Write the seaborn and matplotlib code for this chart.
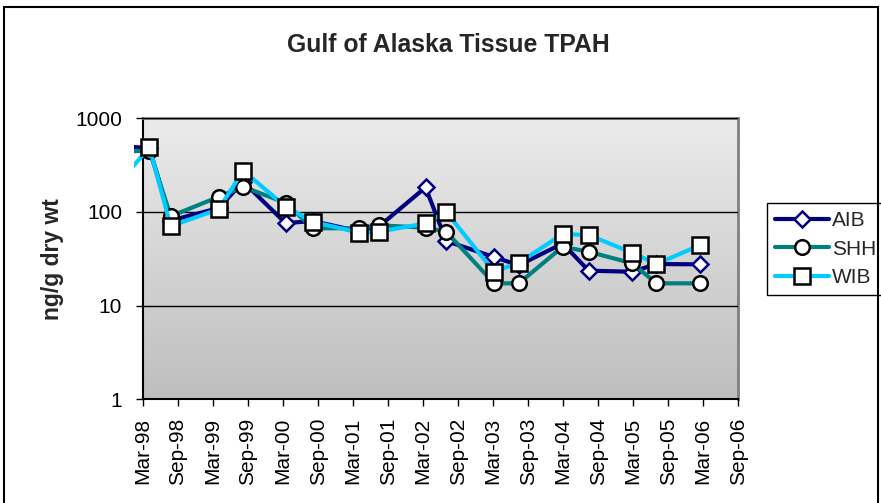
import pandas as pd
import numpy as np
import matplotlib
matplotlib.use("Agg")
import matplotlib.pyplot as plt
import matplotlib.dates as mdates
from matplotlib.patches import Rectangle
from matplotlib.colors import LinearSegmentedColormap
import seaborn as sns

# sampling dates (first one is before the axis start, only a stub of it shows)
datas = ['1997-09-01', '1998-04-05', '1998-07-25', '1999-04-01', '1999-08-07',
         '2000-03-15', '2000-08-04', '2001-04-04', '2001-07-15', '2002-03-15',
         '2002-07-01', '2003-03-07', '2003-07-15', '2004-02-28', '2004-07-13',
         '2005-02-25', '2005-07-01', '2006-02-15']

aib = [517, 480, 81, 110, 210, 76, 80, 62, 70, 183, 49, 33, 27, 46, 23.6, 23, 27.8, 27.6]
shh = [440, 450, 90, 145, 186, 125, 67, 67, 72, 68, 61.5, 17.3, 17.3, 42.5, 37.6, 28.3, 17.3, 17.3]
wib = [150, 489, 70.6, 107, 276, 114, 78.6, 60, 61.5, 75.6, 100, 23, 28.7, 58, 56.7, 36.7, 27.8, 44.3]

series = ['AIB', 'SHH', 'WIB']
cores = {'AIB': '#000080', 'SHH': '#008080', 'WIB': '#00CCFF'}
marcadores = {'AIB': 'D', 'SHH': 'o', 'WIB': 's'}
bordas = {'AIB': '#000080', 'SHH': 'black', 'WIB': 'black'}
tamanhos = {'AIB': 8.5, 'SHH': 10.5, 'WIB': 11}

df = pd.DataFrame({'data': pd.to_datetime(datas), 'AIB': aib, 'SHH': shh, 'WIB': wib})
df = df.melt(id_vars='data', var_name='local', value_name='tpah')

sns.set_style("white")
plt.rcParams['font.family'] = ['Liberation Sans', 'DejaVu Sans']

fig = plt.figure(figsize=(8.81, 5.03), dpi=100)
ax = fig.add_axes([0.162, 0.2062, 0.676, 0.5586])

# fundo em degradê
grad = np.linspace(0, 1, 256).reshape(-1, 1)
cmap = LinearSegmentedColormap.from_list('fundo', ['#EBEBEB', '#BEBEBE'])
ax.imshow(grad, extent=[0, 1, 0, 1], transform=ax.transAxes, aspect='auto',
          cmap=cmap, zorder=0, interpolation='bilinear')

for nome in series:
    dados = df[df['local'] == nome]
    sns.lineplot(data=dados, x='data', y='tpah', color=cores[nome], label=nome,
                 marker=marcadores[nome], markersize=tamanhos[nome],
                 markerfacecolor='white', markeredgecolor=bordas[nome],
                 markeredgewidth=1.8, linewidth=3, ax=ax, zorder=3)

# recorte um pouco além do eixo esquerdo, como no Excel
for linha in ax.lines:
    linha.set_clip_path(Rectangle((-0.0146, 0), 1.0146, 1, transform=ax.transAxes))

ax.set_yscale('log')
ax.set_ylim(1, 1000)
ax.set_yticks([1, 10, 100, 1000])
ax.set_yticklabels(['1', '10', '100', '1000'])
ax.minorticks_off()
ax.yaxis.grid(True, color='black', linewidth=1)
ax.set_axisbelow(False)
for gl in ax.yaxis.get_gridlines():
    gl.set_zorder(1)

ax.set_xlim(pd.Timestamp('1998-03-01'), pd.Timestamp('2006-09-01'))
ax.set_xticks(pd.date_range('1998-03-01', '2006-09-01', freq='6MS'))
ax.xaxis.set_major_formatter(mdates.DateFormatter('%b-%y'))
plt.setp(ax.get_xticklabels(), rotation=90)

ax.tick_params(axis='both', direction='out', length=5, width=1, colors='black',
               labelsize=15, left=True, bottom=True)
ax.tick_params(axis='x', pad=8.4)
ax.tick_params(axis='y', pad=9.9)

ax.set_xlabel('')
ax.set_ylabel('ng/g dry wt', fontsize=16.5, fontweight='bold', labelpad=8)

for lado in ['left', 'bottom']:
    ax.spines[lado].set_color('black')
    ax.spines[lado].set_linewidth(1.5)
for lado in ['top', 'right']:
    ax.spines[lado].set_color('#808080')
    ax.spines[lado].set_linewidth(2)

fig.text(0.5085, 0.910, 'Gulf of Alaska Tissue TPAH', ha='center', va='center',
         fontsize=17.8, fontweight='bold')

leg = ax.legend(loc='upper left', bbox_to_anchor=(0.8706, 0.5964),
                bbox_transform=fig.transFigure, fontsize=15, frameon=True,
                fancybox=False, edgecolor='black', framealpha=1,
                handlelength=2.6, handletextpad=0.1, borderpad=0.4,
                labelspacing=0.45, borderaxespad=0)
leg.get_frame().set_linewidth(1)

# borda da área do gráfico
fig.patches.append(Rectangle((4 / 881, -0.02), 874 / 881, 1 - 7 / 503 + 0.02,
                             transform=fig.transFigure, fill=False,
                             edgecolor='black', linewidth=1.5))

fig.savefig('out.png', dpi=100)
